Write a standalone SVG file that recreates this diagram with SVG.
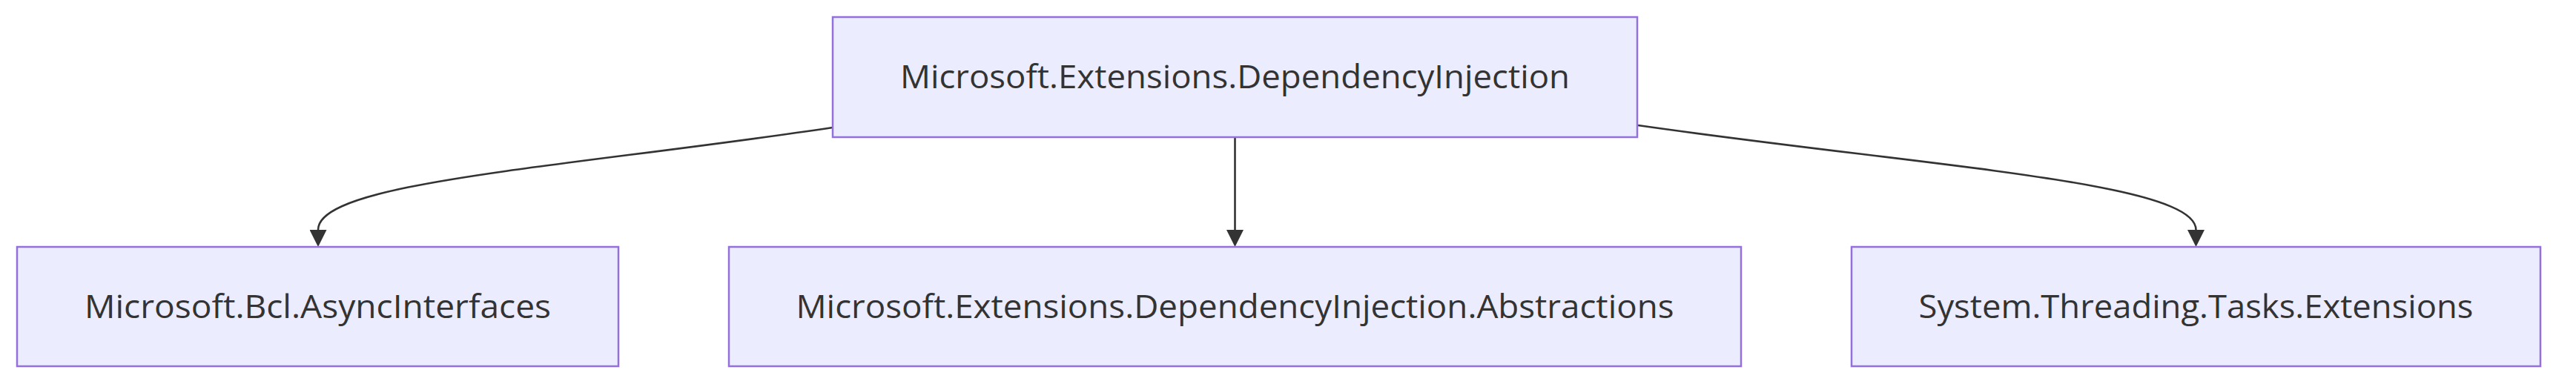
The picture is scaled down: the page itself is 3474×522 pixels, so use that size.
<svg xmlns="http://www.w3.org/2000/svg" width="3474" height="522" viewBox="0 0 3474 522">
  <style>
    .node rect { fill: #ECECFF; stroke: #9370DB; stroke-width: 2.5; }
    .node text { font-family: "Open Sans", "Noto Sans", "DejaVu Sans", sans-serif; font-size: 44px; fill: #333333; text-anchor: middle; }
    .edge { fill: none; stroke: #333333; stroke-width: 2.6; }
  </style>
  <defs>
    <marker id="arrow" markerUnits="userSpaceOnUse" viewBox="0 0 10 10" refX="0" refY="5" markerWidth="23" markerHeight="23" orient="auto">
      <path d="M0,0 L10,5 L0,10 z" fill="#333333"/>
    </marker>
  </defs>
  <rect width="3474" height="522" fill="#ffffff"/>
  <g id="connectors">
    <path class="edge" d="M1123,172 C762,226 429,245 429,310" marker-end="url(#arrow)"/>
    <path class="edge" d="M1665.5,185 L1665.5,310" marker-end="url(#arrow)"/>
    <path class="edge" d="M2209,169 C2600,225 2961.5,245 2961.5,310" marker-end="url(#arrow)"/>
  </g>
  <g id="node-di" class="node">
    <rect x="1123" y="23" width="1085" height="162"/>
    <text x="1665.5" y="119" textLength="903" lengthAdjust="spacingAndGlyphs">Microsoft.Extensions.DependencyInjection</text>
  </g>
  <g id="node-bcl" class="node">
    <rect x="23" y="333" width="811" height="161"/>
    <text x="428.5" y="428.5" textLength="629" lengthAdjust="spacingAndGlyphs">Microsoft.Bcl.AsyncInterfaces</text>
  </g>
  <g id="node-abstractions" class="node">
    <rect x="983" y="333" width="1365" height="161"/>
    <text x="1665.5" y="428.5" textLength="1184" lengthAdjust="spacingAndGlyphs">Microsoft.Extensions.DependencyInjection.Abstractions</text>
  </g>
  <g id="node-tasks" class="node">
    <rect x="2497" y="333" width="929" height="161"/>
    <text x="2961.5" y="428.5" textLength="748" lengthAdjust="spacingAndGlyphs">System.Threading.Tasks.Extensions</text>
  </g>
</svg>
